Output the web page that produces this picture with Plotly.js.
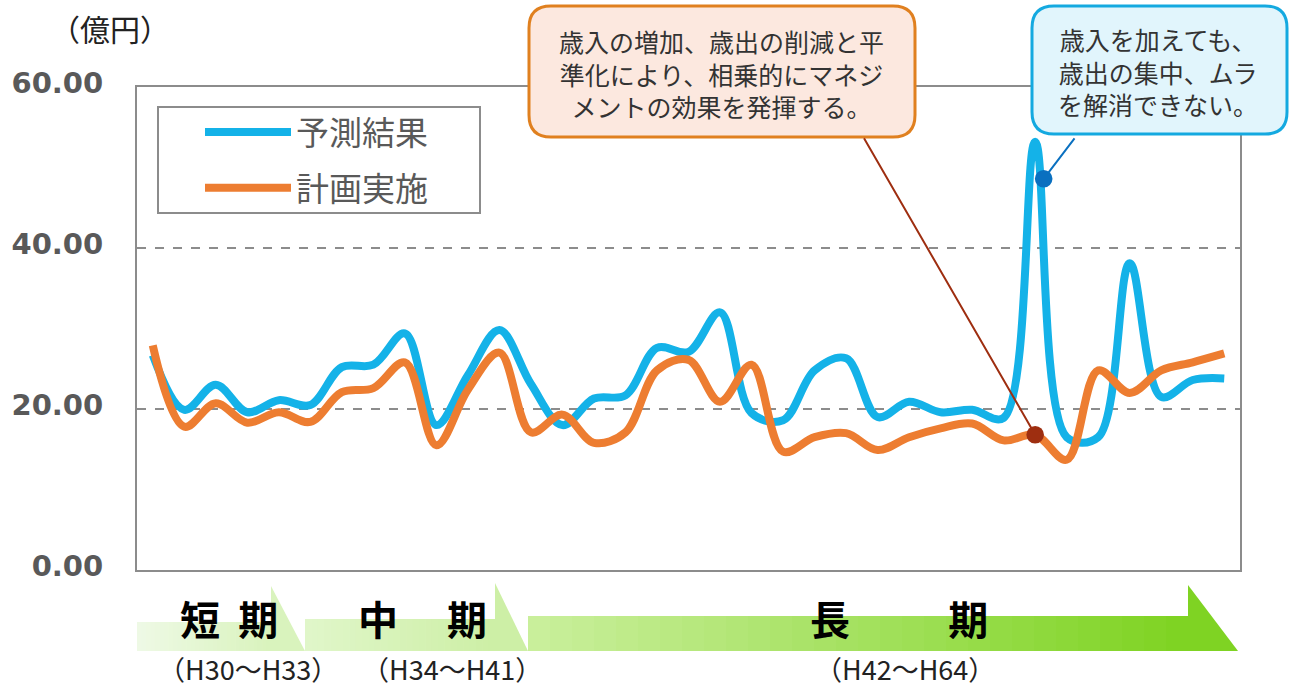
<!DOCTYPE html>
<html>
<head>
<meta charset="utf-8">
<script src="https://cdn.plot.ly/plotly-3.0.1.min.js"></script>
<style>
html,body{margin:0;padding:0;background:#fff;}
#chart{width:1289px;height:690px;}
</style>
</head>
<body>
<div id="chart"></div>
<script>
// ---- data ----
const years = ['H30','H31','H32','H33','H34','H35','H36','H37','H38','H39','H40','H41',
  'H42','H43','H44','H45','H46','H47','H48','H49','H50','H51','H52','H53','H54','H55',
  'H56','H57','H58','H59','H60','H61','H62','H63','H64'];
const forecast = [26.7,19.9,23.0,19.6,21.1,20.5,25.2,25.5,29.4,18.0,24.2,29.8,23.1,18.0,
  21.3,21.7,27.6,27.1,32.0,19.5,18.6,24.8,26.3,19.0,20.9,19.6,19.9,18.9,53.2,16.5,16.5,
  38.1,21.5,23.6,23.8];
const plan = [27.9,17.8,20.7,18.3,19.6,18.4,22.1,22.6,25.8,15.5,22.4,27.0,17.1,19.3,15.8,
  17.1,24.8,26.1,20.9,25.5,14.7,16.5,17.0,14.9,16.5,17.6,18.2,16.1,16.8,13.7,24.8,22.0,
  24.8,25.8,26.9];
const seriesNames = ['予測結果','計画実施'];
const yTicks = [0,20,40,60];
const phases = ['短&nbsp;&nbsp;期','中　&nbsp;期','長　　&nbsp;&nbsp;期'];
const phaseRanges = ['（H30～H33）','（H34～H41）','（H42～H64）'];
const noteA = '歳入の増加、歳出の削減と平<br>準化により、相乗的にマネジ<br>メントの効果を発揮する。';
const noteB = '歳入を加えても、<br>歳出の集中、ムラ<br>を解消できない。';

// ---- geometry helpers (pixel -> paper) ----
const L = 137, R = 1240, T = 87, B = 570;
const W = R - L, H = B - T;
const X = px => (px - L) / W;
const Y = py => (B - py) / H;

const JP = '"Noto Sans CJK JP", "Noto Sans", sans-serif';

const traces = [
  {x: years, y: forecast, name: seriesNames[0], type: 'scatter', mode: 'lines',
   line: {color: '#14b2e8', width: 8, shape: 'spline', smoothing: 1},
   legendgroup: 'a', hoverinfo: 'x+y'},
  {x: years, y: plan, name: seriesNames[1], type: 'scatter', mode: 'lines',
   line: {color: '#ed7d31', width: 8, shape: 'spline', smoothing: 1},
   legendgroup: 'b', hoverinfo: 'x+y'}
];

// ---- shapes ----
const shapes = [];
function hex(c){return [parseInt(c.slice(1,3),16),parseInt(c.slice(3,5),16),parseInt(c.slice(5,7),16)];}
function mix(a,b,t){const A=hex(a),Bc=hex(b);return 'rgb('+A.map((v,i)=>Math.round(v+(Bc[i]-v)*t)).join(',')+')';}
function band(x0, x1, yTop, yBot, headTop, headEnd, c0, c1, c2){
  const n = 30;
  for(let i=0;i<n;i++){
    const a = x0 + (x1-x0)*i/n, b = x0 + (x1-x0)*(i+1)/n + 0.6;
    shapes.push({type:'rect', xref:'paper', yref:'paper', x0:X(a), x1:X(b), y0:Y(yBot), y1:Y(yTop),
      fillcolor: mix(c0,c1,i/(n-1)), line:{width:0}, layer:'below'});
  }
  shapes.push({type:'path', xref:'paper', yref:'paper',
    path:`M${X(x1)},${Y(headTop)} L${X(headEnd)},${Y(yBot)} L${X(x1)},${Y(yBot)} Z`,
    fillcolor: c2, line:{width:0}, layer:'below'});
}
band(137, 271, 622, 651, 586, 305, '#eef9e5', '#d9f3bd', '#d9f3bd');
band(305, 495, 619, 651, 583, 528, '#e0f6c9', '#cdefa6', '#cdefa6');
band(528, 1188, 616, 651, 585, 1238, '#c9ef9b', '#7fd323', '#7fd323');

function roundRect(x0,y0,x1,y1,r,fill,stroke,w){
  const p = [
    `M${X(x0+r)},${Y(y0)}`,`L${X(x1-r)},${Y(y0)}`,`Q${X(x1)},${Y(y0)} ${X(x1)},${Y(y0+r)}`,
    `L${X(x1)},${Y(y1-r)}`,`Q${X(x1)},${Y(y1)} ${X(x1-r)},${Y(y1)}`,
    `L${X(x0+r)},${Y(y1)}`,`Q${X(x0)},${Y(y1)} ${X(x0)},${Y(y1-r)}`,
    `L${X(x0)},${Y(y0+r)}`,`Q${X(x0)},${Y(y0)} ${X(x0+r)},${Y(y0)}`,'Z'].join(' ');
  shapes.push({type:'path', xref:'paper', yref:'paper', path:p, fillcolor:fill,
    line:{color:stroke, width:w}, layer:'above'});
}
roundRect(529, 6, 915, 137, 22, '#fce8df', '#e0801f', 3);
roundRect(1032, 6, 1287, 134, 22, '#e1f5fc', '#14a9e0', 3);
// legend frame
shapes.push({type:'rect', xref:'paper', yref:'paper', x0:X(158), x1:X(480), y0:Y(213), y1:Y(107),
  fillcolor:'#fff', line:{color:'#8c8c8c', width:2}, layer:'above'});

// ---- annotations ----
function txt(px, py, text, size, color){
  return {xref:'paper', yref:'paper', x:X(px), y:Y(py), xanchor:'center', yanchor:'middle',
    text:text, showarrow:false, align:'center', font:{family:JP, size:size, color:color}};
}
const annotations = [
  txt(110, 28, '（億円）', 30, '#222'),
  // pointers
  {x: 28, y: plan[28], xref:'x', yref:'y', text:'', showarrow:true, ax: 860-1032, ay: 137-435,
   arrowcolor:'#9e2e10', arrowwidth:2, arrowhead:6, arrowsize:2.2, standoff:0},
  {x: 28.27, y: 48.6, xref:'x', yref:'y', text:'', showarrow:true, ax: 32, ay: -42,
   arrowcolor:'#0a70c0', arrowwidth:2, arrowhead:6, arrowsize:2.2, standoff:0},
  // callout texts
  txt(721, 74, noteA, 25, '#333'),
  txt(1158, 71, noteB, 25, '#333'),
  // phases
  txt(229, 618, '<b>'+phases[0]+'</b>', 40, '#000'),
  txt(422, 618, '<b>'+phases[1]+'</b>', 40, '#000'),
  txt(899, 618, '<b>'+phases[2]+'</b>', 40, '#000'),
  txt(248, 668, phaseRanges[0], 27, '#222'),
  txt(452, 668, phaseRanges[1], 27, '#222'),
  txt(905, 668, phaseRanges[2], 27, '#222')
];

const layout = {
  width:1289, height:690,
  margin:{l:L, r:1289-R, t:T, b:690-B, pad:0},
  paper_bgcolor:'#fff', plot_bgcolor:'#fff',
  showlegend:true,
  legend:{x:X(200), y:Y(104), xanchor:'left', yanchor:'top', bgcolor:'rgba(0,0,0,0)',
    borderwidth:0, font:{family:JP, size:33, color:'#595959'},
    traceorder:'grouped', tracegroupgap:10, itemwidth:86},
  xaxis:{type:'category', range:[-0.5, years.length-0.5], showticklabels:false, ticks:'',
    showgrid:false, zeroline:false, showline:true, mirror:true, linecolor:'#8c8c8c', linewidth:2,
    fixedrange:true},
  yaxis:{range:[0,60], tickvals:yTicks, tickformat:'.2f', showline:true, mirror:true,
    linecolor:'#8c8c8c', linewidth:2, showgrid:true, gridcolor:'#8c8c8c', griddash:'dash',
    gridwidth:1.5, zeroline:false, ticks:'outside', ticklen:26, tickcolor:'rgba(0,0,0,0)',
    ticklabelshift:-4,
    tickfont:{family:'"DejaVu Sans", Verdana, sans-serif', size:29, color:'#595959', weight:'bold'},
    fixedrange:true},
  shapes: shapes,
  annotations: annotations
};

Plotly.newPlot('chart', traces, layout, {displayModeBar:false, staticPlot:true});
</script>
</body>
</html>
